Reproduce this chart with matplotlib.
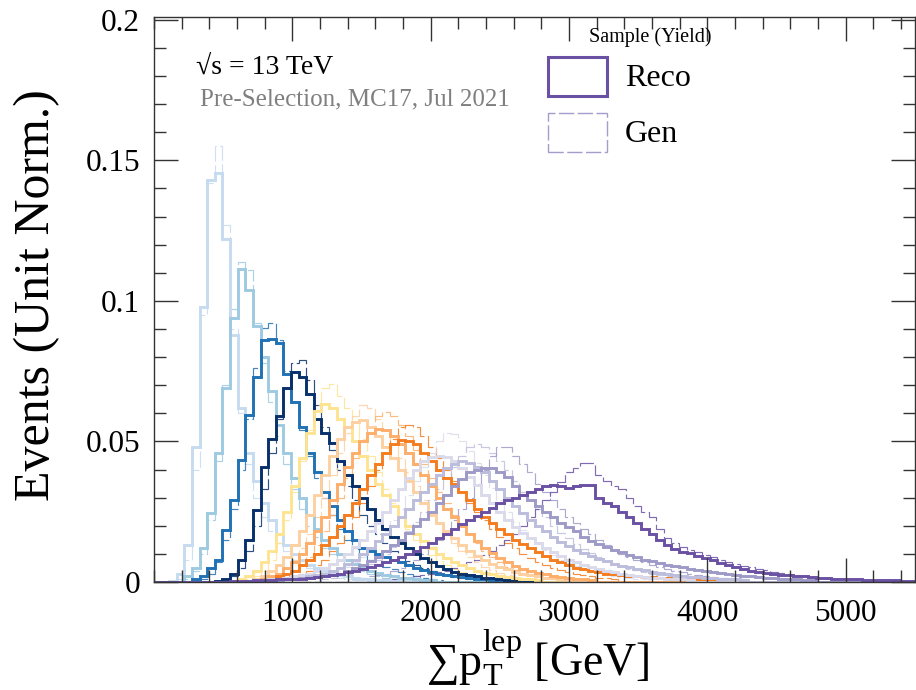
import numpy as np
import matplotlib
matplotlib.use('Agg')
import matplotlib.pyplot as plt
from matplotlib.patches import Rectangle
from matplotlib.ticker import MultipleLocator, FuncFormatter

plt.rcParams['font.family'] = ['Liberation Serif', 'DejaVu Serif']
plt.rcParams['mathtext.fontset'] = 'stix'

# ---------------- data (bin contents x 1e-3, 55 GeV bins from 0 to 5500) ----------------
bin_width = 55
n_bins = 100

colors = ['#c6dbef', '#9ecae1', '#2171b5', '#08306b',
          '#fee391', '#fdd0a2', '#fdae6b', '#f47d20',
          '#dadaeb', '#bcbddc', '#9e9ac8', '#6a51a3']

# first filled bin of each sample
reco_start = [2, 4, 5, 8, 11, 13, 14, 15, 12, 14, 14, 10]
gen_start = [3, 4, 6, 9, 12, 15, 16, 17, 20, 22, 26, 30]

reco_01 = [0.5, 3, 13, 48, 98, 143, 145.5, 122, 88, 62, 46, 36, 28, 22, 17, 13, 10, 8, 6, 5, 4, 3,
           2.5, 2, 1.5, 1.2, 1, 0.8, 0.6, 0.5, 0.4, 0.3]
gen_01 = [1, 8, 40, 95, 142, 155, 127, 90, 60, 42, 30, 23, 18, 14, 11, 8, 6, 5, 4, 3, 2, 1.5, 1,
          0.8, 0.6, 0.4]

reco_02 = [2, 5, 12, 24.5, 46, 69, 94, 111.5, 104, 91, 80, 68, 56, 46, 37, 30, 24, 19, 15, 12, 10,
           8, 6.5, 5, 4, 3.2, 2.5, 2, 1.6, 1.3, 1, 0.8, 0.6]
gen_02 = [1, 4, 10, 22, 43, 70, 97, 114, 111, 92, 78, 64, 52, 42, 33, 26, 20, 16, 12, 10, 8, 6, 5,
          4, 3, 2, 1.5, 1]

reco_03 = [1, 2, 5, 8, 18.5, 29, 43.5, 59.5, 73, 86, 86.5, 85, 74, 64, 55, 46, 39, 32, 27, 22, 18,
           15, 12, 11, 10, 9, 8, 7, 6, 5, 4.2, 3.5, 3, 2.5, 2, 1.7, 1.4, 1.2, 1, 0.8]
gen_03 = [1, 3, 7, 15, 26, 40, 58, 76, 90.5, 92, 86, 75, 64, 54, 45, 37, 30, 24, 19, 15, 12, 9.5,
          8, 6.5, 5.5, 4.5, 3.5, 2.8, 2.2, 1.6, 1.2, 0.8]

reco_04 = [0.5, 1, 3, 8, 15, 25.5, 41, 51, 59, 69, 74.8, 73, 67, 58, 53, 49.5, 43, 38, 34, 30, 26,
           22, 19, 16, 14, 12, 10, 8.5, 7, 5.7, 4.6, 3.7, 3, 2.4, 2, 1.6, 1.3, 1, 0.8, 0.6]
gen_04 = [0.5, 2, 5, 11, 20, 33, 46, 58, 69, 78, 79, 72, 63, 55, 47, 40, 34, 29, 24, 20, 17, 14,
          11, 9, 7.5, 6, 5, 4, 3, 2.4, 1.8, 1.4, 1]

reco_05 = [1, 2, 4, 7, 11, 17, 25, 34, 44, 53, 61, 63.5, 62, 58, 55, 50, 45, 40, 35, 31, 27, 23,
           20, 17, 14.5, 12, 10, 8.5, 7, 6, 5, 4, 3.3, 2.7, 2.2, 1.8, 1.4, 1.1, 0.9, 0.7]
gen_05 = [1, 2, 4, 8, 14, 22, 32, 43, 54, 63, 69, 70.5, 66, 62, 57, 51, 45, 39, 33, 28, 23, 19,
          15, 12, 9.5, 7.5, 6, 4.5, 3.5, 2.7, 2, 1.5, 1.1, 0.8]

reco_06 = [1, 2, 4, 6, 9, 13, 18, 24, 31, 38, 45, 51, 55, 57, 57.5, 55, 52, 48, 44, 40, 36, 32,
           28, 24, 21, 18, 15.5, 13, 11, 9.3, 7.8, 6.5, 5.4, 4.5, 3.7, 3, 2.5, 2, 1.6, 1.3, 1, 0.8]
gen_06 = [2, 3, 5, 8, 12, 17, 23, 30, 38, 46, 53, 59, 63, 62, 58, 54, 49, 44, 39, 34, 29, 25, 21,
          17, 14, 11, 9, 7, 5.5, 4.3, 3.3, 2.5, 1.9, 1.4, 1]

reco_07 = [1, 2, 3, 5, 7, 10, 14, 18, 23, 29, 35, 41, 46, 50, 53, 54.5, 54, 52, 49, 46, 42, 38,
           34, 30, 26, 23, 20, 17, 14.5, 12.2, 10.2, 8.5, 7, 5.8, 4.8, 4, 3.3, 2.7, 2.2, 1.8, 1.4,
           1.1, 0.9, 0.7]
gen_07 = [1, 2, 4, 6, 9, 13, 18, 24, 30, 37, 44, 50, 55, 59, 60.5, 59, 56, 52, 47, 42, 37, 32, 28,
          24, 20, 17, 14, 11, 9, 7, 5.5, 4.3, 3.3, 2.5, 1.9, 1.4, 1]

reco_08 = [1, 2, 3, 4, 6, 8, 10, 13, 16, 20, 24, 28, 33, 38, 42, 46, 49, 50.5, 50, 49, 46, 43, 40,
           37, 35, 32, 29, 26, 23, 21, 19, 17, 15, 13.5, 12, 10.5, 9.3, 8, 7, 6, 5, 4.5, 4, 3.5,
           3, 2.8, 2.5, 2.3, 2.1, 1.9, 1.7, 1.5, 1.3, 1.2, 1.1, 1, 0.9, 0.8, 0.7]
gen_08 = [1, 2, 3, 4, 6, 8, 11, 14, 18, 23, 28, 34, 40, 46, 51, 55, 56, 55, 52, 48, 44, 40, 36,
          32, 28, 25, 22, 19, 16, 14, 12, 10, 8.5, 7, 6, 5, 4.2, 3.5, 3, 2.5, 2, 1.6, 1.3, 1]

reco_09 = [0.5, 0.7, 0.8, 1, 1.2, 1.5, 2, 2.5, 3, 4, 5, 6.5, 8, 10, 12.5, 15, 18, 21, 25, 29, 33,
           37, 40, 43, 44.5, 45, 44.5, 43, 40.5, 37.5, 34.5, 31, 28, 25, 22.2, 19.7, 17.5, 15.5,
           13.7, 12, 10.5, 9.2, 8, 7, 6.1, 5.3, 4.6, 4, 3.5, 3, 2.6, 2.2, 1.9, 1.6, 1.4, 1.2, 1,
           0.9, 0.8]
gen_09 = [1, 1.5, 2, 3, 4, 5.5, 7, 9, 11.5, 14.5, 18, 22, 26, 31, 36, 41, 46, 50, 53, 52.5, 50,
          46.5, 42.5, 38, 33.5, 29, 25, 21.5, 18.5, 15.8, 13.4, 11.3, 9.5, 8, 6.7, 5.6, 4.7, 3.9,
          3.2, 2.6, 2.1, 1.7, 1.4, 1.1, 0.9]

reco_10 = [0.5, 0.7, 0.8, 1, 1.2, 1.5, 2, 2.5, 3, 4, 5, 6.5, 8, 10, 12, 14.5, 17, 20, 23, 26, 29,
           32, 35, 38, 40.5, 42, 43, 42.5, 41, 39, 36, 33, 30, 27, 24.5, 22, 20, 18, 16, 14.3, 12.8,
           11.5, 10.3, 9.2, 8.2, 7.3, 6.5, 5.8, 5.2, 4.6, 4.1, 3.6, 3.2, 2.8, 2.5, 2.2, 1.9, 1.7,
           1.5, 1.3, 1.1, 1, 0.9, 0.8]
gen_10 = [1, 1.5, 2, 3, 4, 5, 6.5, 8, 10, 12.5, 15, 18, 21.5, 25, 29, 33, 37, 41, 45, 48, 49, 48,
          46, 43, 40, 36, 32, 29, 26, 23, 20, 17.5, 15.5, 13.5, 11.8, 10.2, 8.8, 7.6, 6.5, 5.6,
          4.8, 4.1, 3.5, 3, 2.5, 2.1, 1.8, 1.5, 1.2, 1]

reco_11 = [0.5, 0.6, 0.8, 1, 1.2, 1.4, 1.6, 1.8, 2, 2.5, 3, 4, 5, 6, 7.5, 9, 11, 13, 15, 17.5, 20,
           22.5, 25, 28, 31, 34, 36.5, 39, 40, 40.5, 40.5, 39, 37.5, 34, 31, 29, 27, 25, 23, 21,
           19.5, 18, 16, 14.5, 13.5, 12.5, 11.5, 10.5, 9.5, 8.8, 8, 7.3, 6.7, 6.2, 5.7, 5.2, 4.8,
           4.4, 4, 3.6, 3.2, 2.8, 2.5, 2.2, 2, 1.8, 1.6, 1.4, 1.2, 1, 0.9, 0.8, 0.7]
gen_11 = [1, 1.5, 2, 2.5, 3, 4, 5, 6.5, 8, 10, 12.5, 15, 18, 22, 26, 30, 35, 40, 45, 48, 48, 45,
          42, 39, 35, 32, 29, 26, 23, 21, 19, 17, 15, 13, 11.5, 10, 9, 8, 7, 6, 5.2, 4.5, 3.9,
          3.4, 3, 2.6, 2.2, 1.9, 1.6, 1.4, 1.2, 1]

reco_12 = [0.3, 0.4, 0.5, 0.6, 0.7, 0.8, 0.9, 1, 1, 1.2, 1.5, 1.7, 2, 2.5, 3, 3.5, 4, 4.7, 5.5,
           6.2, 7, 8, 9, 10, 11, 12.5, 14, 15.5, 17, 19, 20.5, 22, 23.5, 25, 26.5, 28, 29, 30, 31,
           32, 33, 34, 34.5, 34, 33.5, 34, 34.5, 34.5, 30, 28, 27, 25, 23, 21, 19, 17, 14.8, 13,
           11.8, 10.8, 10.2, 9.3, 8.5, 7.7, 6.8, 6, 5.2, 4.5, 4, 3.5, 3.1, 2.8, 2.6, 2.4, 2.2, 2,
           1.7, 1.5, 1.3, 1.2, 1.1, 1, 0.9, 0.8, 0.8, 0.7, 0.6, 0.6, 0.5, 0.5]
gen_12 = [1, 1.2, 1.5, 1.8, 2, 2.5, 3, 3.5, 4, 5, 6, 7, 8, 9.5, 11, 13, 15, 17, 20, 23, 26, 29, 32,
          35.5, 39, 40.5, 42.5, 42.5, 38, 36, 34, 33, 30, 27, 25, 23, 19, 15.5, 14, 12.5, 11.5,
          10.5, 9.6, 8.8, 8, 7.2, 6.5, 5.8, 5.3, 4.7, 4.1, 3.6, 3.1, 2.7, 2.3, 2, 1.7, 1.5, 1.3,
          1.1, 1, 0.9, 0.8]

reco_vals = [reco_01, reco_02, reco_03, reco_04, reco_05, reco_06,
             reco_07, reco_08, reco_09, reco_10, reco_11, reco_12]
gen_vals = [gen_01, gen_02, gen_03, gen_04, gen_05, gen_06,
            gen_07, gen_08, gen_09, gen_10, gen_11, gen_12]

x_ticks = [1000, 2000, 3000, 4000, 5000]
y_ticks = [0, 0.05, 0.1, 0.15, 0.2]

# ---------------- figure ----------------
W, H = 916, 690
fig = plt.figure(figsize=(W / 100, H / 100), dpi=100)


def fx(x):
    return x / W


def fy(y):
    return 1 - y / H


ax = fig.add_axes([fx(154), fy(582), (915 - 154) / W, (582 - 17) / H])
edges = np.arange(n_bins + 1) * bin_width


def full_hist(start, vals):
    h = np.zeros(n_bins)
    h[start:start + len(vals)] = np.asarray(vals) * 1e-3
    return h


for c, s, v in zip(colors, gen_start, gen_vals):
    ax.stairs(full_hist(s, v), edges, color=c, lw=0.85, alpha=0.85,
              linestyle=(0, (14, 3)), baseline=0)
for c, s, v in zip(colors, reco_start, reco_vals):
    ax.stairs(full_hist(s, v), edges, color=c, lw=2.1, baseline=0)

ax.set_xlim(0, 5500)
ax.set_ylim(0, 0.201)
ax.set_xticks(x_ticks)
ax.set_yticks(y_ticks)
ax.xaxis.set_minor_locator(MultipleLocator(200))
ax.yaxis.set_minor_locator(MultipleLocator(0.01))
ax.yaxis.set_major_formatter(FuncFormatter(lambda v, p: '%g' % v))
ax.tick_params(which='both', direction='in', top=True, right=True, width=1.0,
               color='#333333', labelsize=22.5)
ax.tick_params(which='major', length=17, pad=10)
ax.tick_params(which='minor', length=8.5)
ax.tick_params(axis='x', which='major', pad=12)
for sp in ax.spines.values():
    sp.set_color('#333333')
    sp.set_linewidth(1.0)

fig.text(fx(37), fy(295), 'Events (Unit Norm.)', rotation=90, ha='center', va='center',
         fontsize=36)
fig.text(fx(538), fy(657), r'∑$\mathregular{p_T^{lep}}$ [GeV]', ha='center', va='center',
         fontsize=33)

fig.text(fx(196), fy(67), '√s = 13 TeV', ha='left', va='center', fontsize=20)
fig.text(fx(200), fy(99), 'Pre-Selection, MC17, Jul 2021', ha='left', va='center',
         fontsize=18, color='#7f7f7f')

# legend
fig.text(fx(650), fy(37), 'Sample (Yield)', ha='center', va='center', fontsize=14.5)
fig.add_artist(Rectangle((fx(548), fy(96)), (607 - 548) / W, (96 - 57) / H,
                         transform=fig.transFigure, fill=False, ec='#6a51a3', lw=2.2))
fig.add_artist(Rectangle((fx(548), fy(152)), (607 - 548) / W, (152 - 113) / H,
                         transform=fig.transFigure, fill=False, ec='#a39dcc', lw=1.0,
                         linestyle=(0, (11, 2.5))))
fig.text(fx(625), fy(78), 'Reco', ha='left', va='center', fontsize=23)
fig.text(fx(625), fy(134), 'Gen', ha='left', va='center', fontsize=23)

fig.savefig('out.png', dpi=100)
